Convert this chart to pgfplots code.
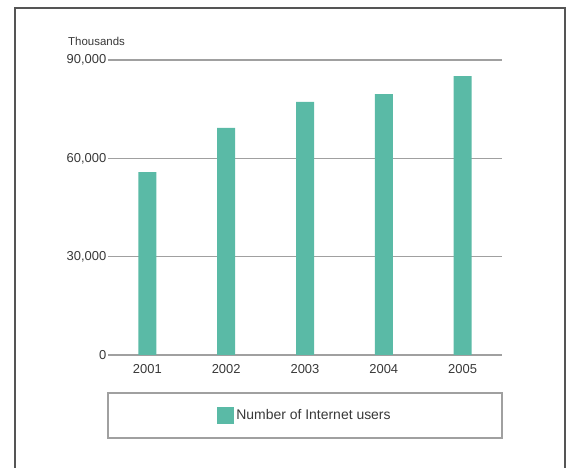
\documentclass[border=0pt]{standalone}
\usepackage{fontspec}
\setmainfont{Liberation Sans}
\usepackage{pgfplots}
\pgfplotsset{compat=1.18}
\definecolor{barc}{HTML}{5ABAA6}
\definecolor{gridc}{HTML}{A0A0A0}
\definecolor{txt}{HTML}{383838}
\definecolor{framec}{HTML}{555555}
\begin{document}
\begin{tikzpicture}
\useasboundingbox (0,0) rectangle (572bp,468bp);
\draw[framec, line width=1.5bp] (15bp,0) -- (15bp,460bp) -- (565bp,460bp) -- (565bp,0);
\draw[gridc, line width=1.2bp] (108bp,30bp) rectangle (502bp,75bp);
\node[anchor=base west, text=txt, font=\fontsize{11.5}{13}\selectfont, inner sep=0] at (68bp,422bp) {Thousands};
\begin{axis}[
  at={(108bp,113bp)}, anchor=south west,
  scale only axis, width=394bp, height=295bp,
  xmin=-0.5, xmax=4.5, ymin=0, ymax=90000,
  ybar, bar width=18bp, bar shift=0pt,
  xtick={0,1,2,3,4}, xticklabels={2001,2002,2003,2004,2005},
  ytick={0,30000,60000,90000},
  scaled y ticks=false,
  /pgf/number format/1000 sep={,},
  /pgf/number format/assume math mode=true,
  axis line style={draw=none}, major tick length=0pt,
  ymajorgrids, grid style={gridc, line width=1.2bp},
  tick label style={text=txt, font=\fontsize{13}{15}\selectfont},
  yticklabel style={inner sep=1.5bp},
  xticklabel style={yshift=-5.5bp},
  legend style={at={(0.5,-0.2051)}, anchor=center, draw=none, fill=none,
    font=\fontsize{14}{16}\selectfont, text=txt},
  legend image code/.code={\fill[barc] (0bp,-8.5bp) rectangle (17bp,8.5bp);},
]
\addplot[fill=barc, draw=none] coordinates {(0,55800) (1,69300) (2,77200) (3,79600) (4,85100)};
\legend{Number of Internet users}
\end{axis}
\end{tikzpicture}
\end{document}
